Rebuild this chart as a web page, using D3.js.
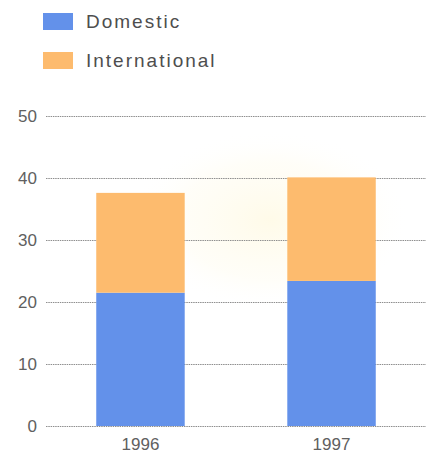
<!DOCTYPE html>
<html>
<head>
<meta charset="utf-8">
<script src="https://cdn.jsdelivr.net/npm/d3@7"></script>
<style>
  html, body { margin: 0; padding: 0; background: #ffffff; }
  svg { display: block; }
</style>
</head>
<body>
<svg id="chart" width="435" height="457"></svg>
<script>
// Passenger volumes by year, split into domestic and international
const years = ["1996", "1997"];
const domestic = [21.5, 23.4];
const international = [16.1, 16.7];
const seriesNames = ["Domestic", "International"];
const seriesColors = ["#6391ea", "#fdbb6e"];
const yTicks = [0, 10, 20, 30, 40, 50];

const svg = d3.select("#chart");
const W = 435, H = 457;
const margin = { top: 116, right: 9, bottom: 31, left: 46 };
const FONT = "'Liberation Sans', Arial, sans-serif";

const rows = years.map((y, i) => ({ year: y, Domestic: domestic[i], International: international[i] }));
const stacked = d3.stack().keys(seriesNames)(rows);

const x = d3.scaleBand()
  .domain(years)
  .range([margin.left, W - margin.right])
  .paddingInner(0.537)
  .paddingOuter(0.263);

const y = d3.scaleLinear()
  .domain([0, 50])
  .range([H - margin.bottom, margin.top]);

// faint warm glow behind the plot centre
const defs = svg.append("defs");
const glow = defs.append("radialGradient").attr("id", "glow");
glow.append("stop").attr("offset", "0%").attr("stop-color", "#fff7d6").attr("stop-opacity", 0.55);
glow.append("stop").attr("offset", "65%").attr("stop-color", "#fffbea").attr("stop-opacity", 0.35);
glow.append("stop").attr("offset", "100%").attr("stop-color", "#ffffff").attr("stop-opacity", 0);
svg.append("ellipse")
  .attr("cx", 270).attr("cy", 220)
  .attr("rx", 140).attr("ry", 90)
  .attr("fill", "url(#glow)");

// horizontal gridlines with tick labels
const yAxis = d3.axisLeft(y)
  .tickValues(yTicks)
  .tickSize(-(W - margin.right - margin.left))
  .tickPadding(9);

const gy = svg.append("g")
  .attr("transform", `translate(${margin.left},0)`)
  .call(yAxis);
gy.select(".domain").remove();
gy.selectAll(".tick line")
  .attr("stroke", "#8e8e8e")
  .attr("stroke-width", 1)
  .attr("stroke-dasharray", "1.5,0.8");
gy.selectAll(".tick text")
  .attr("fill", "#606060")
  .style("font-family", FONT)
  .style("font-size", "17px");

// stacked bars
svg.append("g")
  .selectAll("g")
  .data(stacked)
  .join("g")
  .attr("fill", (d, i) => seriesColors[i])
  .selectAll("rect")
  .data(d => d)
  .join("rect")
  .attr("x", d => x(d.data.year))
  .attr("width", x.bandwidth())
  .attr("y", d => y(d[1]))
  .attr("height", d => y(d[0]) - y(d[1]));

// year labels
const xAxis = d3.axisBottom(x).tickSize(0).tickPadding(12);
const gx = svg.append("g")
  .attr("transform", `translate(0,${H - margin.bottom})`)
  .call(xAxis);
gx.select(".domain").remove();
gx.selectAll(".tick text")
  .attr("fill", "#606060")
  .style("font-family", FONT)
  .style("font-size", "17px");

// legend
const legend = svg.append("g")
  .selectAll("g")
  .data(seriesNames)
  .join("g")
  .attr("transform", (d, i) => `translate(43,${13 + i * 39})`);
legend.append("rect")
  .attr("width", 30).attr("height", 17)
  .attr("fill", (d, i) => seriesColors[i]);
legend.append("text")
  .attr("x", 43).attr("y", 14.5)
  .attr("fill", "#4e4e4e")
  .style("font-family", FONT)
  .style("font-size", "19px")
  .style("letter-spacing", "2px")
  .text(d => d);
</script>
</body>
</html>
